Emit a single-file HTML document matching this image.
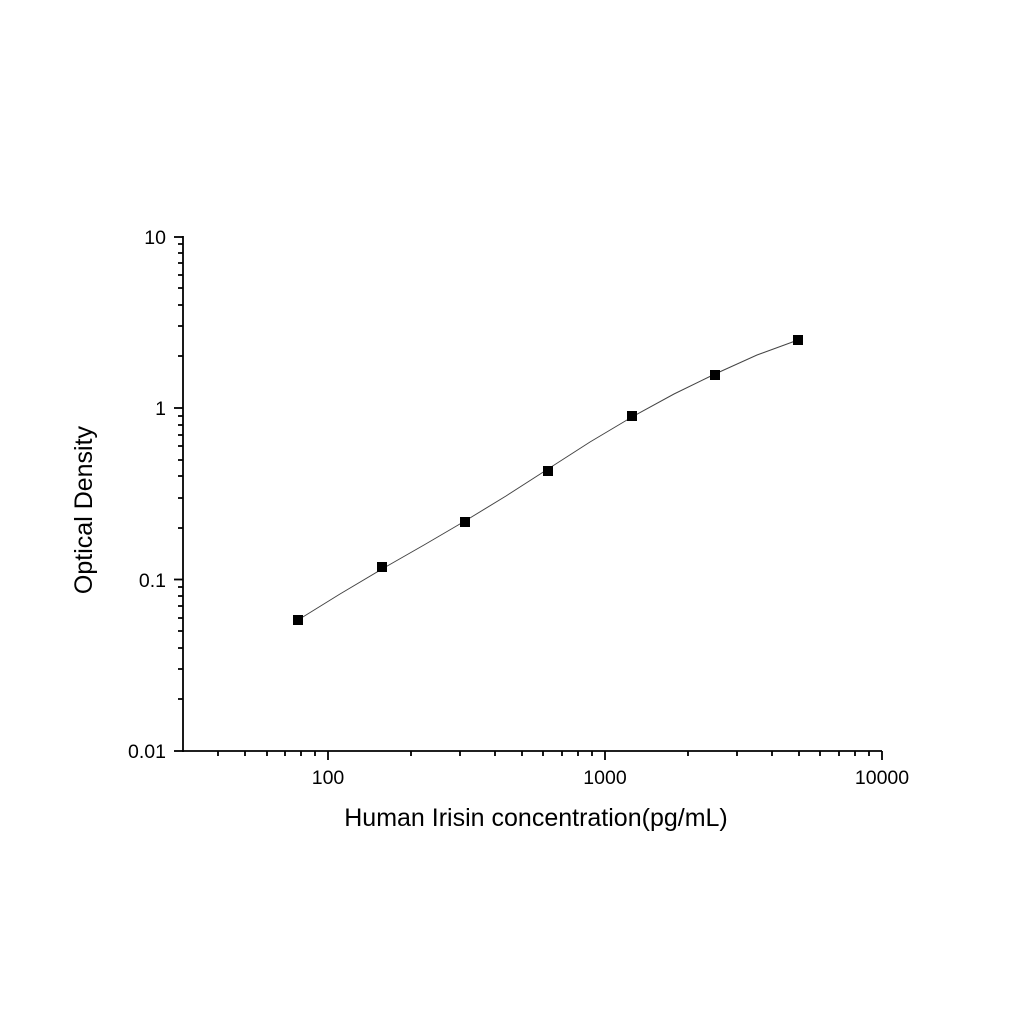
<!DOCTYPE html>
<html><head><meta charset="utf-8"><style>
html,body{margin:0;padding:0;background:#fff;}
svg{display:block;}
text{font-family:"Liberation Sans",Arial,sans-serif;fill:#000;}
</style></head><body>
<svg width="1024" height="1024" viewBox="0 0 1024 1024" xmlns="http://www.w3.org/2000/svg">
<rect width="1024" height="1024" fill="#fff"/>
<g stroke="#000" stroke-width="1.8" fill="none">
<line x1="183" y1="236" x2="183" y2="752"/>
<line x1="182" y1="751" x2="882" y2="751"/>
<line x1="174" y1="237" x2="183" y2="237"/>
<line x1="174" y1="408" x2="183" y2="408"/>
<line x1="174" y1="579.5" x2="183" y2="579.5"/>
<line x1="174" y1="751" x2="183" y2="751"/>
<path d="M178 699H183M178 669H183M178 648H183M178 631H183M178 618H183M178 606H183M178 596H183M178 587H183
M178 528H183M178 498H183M178 476H183M178 460H183M178 446H183M178 435H183M178 425H183M178 416H183
M178 356H183M178 326H183M178 305H183M178 288H183M178 275H183M178 263H183M178 253H183M178 244H183"/>
<line x1="328" y1="751" x2="328" y2="760"/>
<line x1="605" y1="751" x2="605" y2="760"/>
<line x1="882" y1="751" x2="882" y2="760"/>
<path d="M218 751V756M245 751V756M267 751V756M285 751V756M301 751V756M315 751V756
M411 751V756M460 751V756M495 751V756M522 751V756M543 751V756M562 751V756M578 751V756M592 751V756
M688 751V756M737 751V756M772 751V756M799 751V756M820 751V756M839 751V756M855 751V756M869 751V756"/>
</g>
<polyline fill="none" stroke="#444" stroke-width="1" points="298,620 340,594 382,569 424,545 465,521 506,496 548,469 590,442 632,417 674,394 715,374 757,355 798,340"/>
<g fill="#000">
<rect x="293" y="615" width="10" height="10"/>
<rect x="377" y="562" width="10" height="10"/>
<rect x="460" y="517" width="10" height="10"/>
<rect x="543" y="466" width="10" height="10"/>
<rect x="627" y="411" width="10" height="10"/>
<rect x="710" y="370" width="10" height="10"/>
<rect x="793" y="335" width="10" height="10"/>
</g>
<g font-size="19.5" text-anchor="end">
<text x="166" y="244">10</text>
<text x="166" y="415">1</text>
<text x="166" y="587">0.1</text>
<text x="166" y="758">0.01</text>
</g>
<g font-size="19.5" text-anchor="middle">
<text x="328" y="784">100</text>
<text x="605" y="784">1000</text>
<text x="882" y="784">10000</text>
</g>
<text x="536" y="826" font-size="25" text-anchor="middle">Human Irisin concentration(pg/mL)</text>
<text x="0" y="0" font-size="25" text-anchor="middle" transform="translate(92,510) rotate(-90)">Optical Density</text>
</svg>
</body></html>
